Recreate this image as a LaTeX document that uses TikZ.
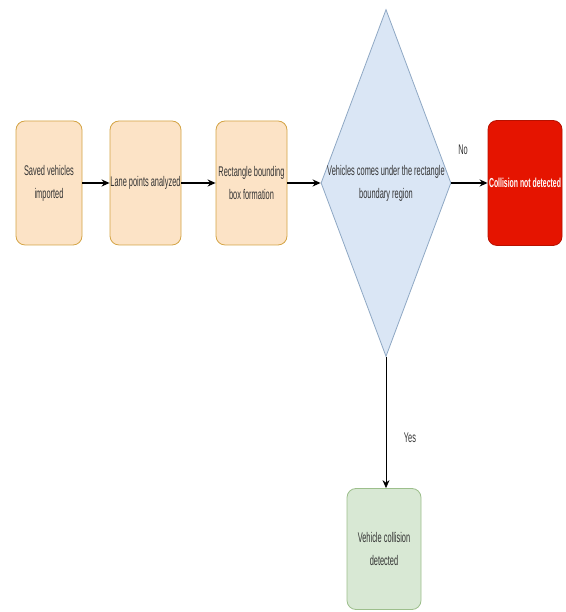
\documentclass[tikz,border=0pt]{standalone}
\usepackage{fontspec}
\setmainfont[FakeStretch=0.53]{Liberation Sans}
\usepackage{xcolor}
\usetikzlibrary{arrows.meta,shapes.geometric}

\definecolor{stepfill}{HTML}{FCE3C6}
\definecolor{stepline}{HTML}{D4A445}
\definecolor{decfill}{HTML}{DAE6F5}
\definecolor{decline}{HTML}{8FA8C4}
\definecolor{nofill}{HTML}{E51400}
\definecolor{noline}{HTML}{B71100}
\definecolor{yesfill}{HTML}{D8E8D4}
\definecolor{yesline}{HTML}{9DBF8C}
\definecolor{textgray}{HTML}{333333}

\begin{document}
\begin{tikzpicture}[x=1pt,y=1pt,font=\fontsize{14}{23}\selectfont,text=textgray,
  stepbox/.style={draw=stepline,fill=stepfill,rounded corners=9pt,minimum height=124pt,
    align=center,inner sep=0pt,line width=0.8pt},
  decision/.style={diamond,draw=decline,fill=decfill,minimum width=130pt,minimum height=347pt,
    inner sep=0pt,line width=0.8pt},
  flow/.style={-{Stealth[length=8pt,width=7pt]},line width=1.6pt}]
  \useasboundingbox (0,0) rectangle (565,612);
  \node[stepbox,minimum width=66pt] (saved) at (49,429) {Saved vehicles\\imported};
  \node[stepbox,minimum width=71pt] (lane) at (145.5,429) {Lane points analyzed};
  \node[stepbox,minimum width=71pt] (rect) at (251.5,429) {Rectangle bounding\\box formation};
  \node[decision] (region) at (386,429) {};
  \node[align=center] (regiontxt) at (region) {Vehicles comes under the rectangle\\boundary region};
  \node[stepbox,draw=noline,fill=nofill,text=white,minimum width=74pt,minimum height=125pt,
    font=\fontsize{13}{20}\selectfont\bfseries] (nocoll) at (525,429) {Collision not detected};
  \node[stepbox,draw=yesline,fill=yesfill,minimum width=74pt,minimum height=121pt] (coll) at (384,63) {Vehicle collision\\detected};
  \foreach \a/\b in {saved/lane,lane/rect,rect/region,region/nocoll}{\draw[flow] (\a.east) -- (\b.west);}
  \draw[flow,line width=0.8pt] (region.south) -- (region.south |- coll.north);
  \node (no) at (463,462) {No};
  \node (yes) at (410,174) {Yes};
\end{tikzpicture}
\end{document}
